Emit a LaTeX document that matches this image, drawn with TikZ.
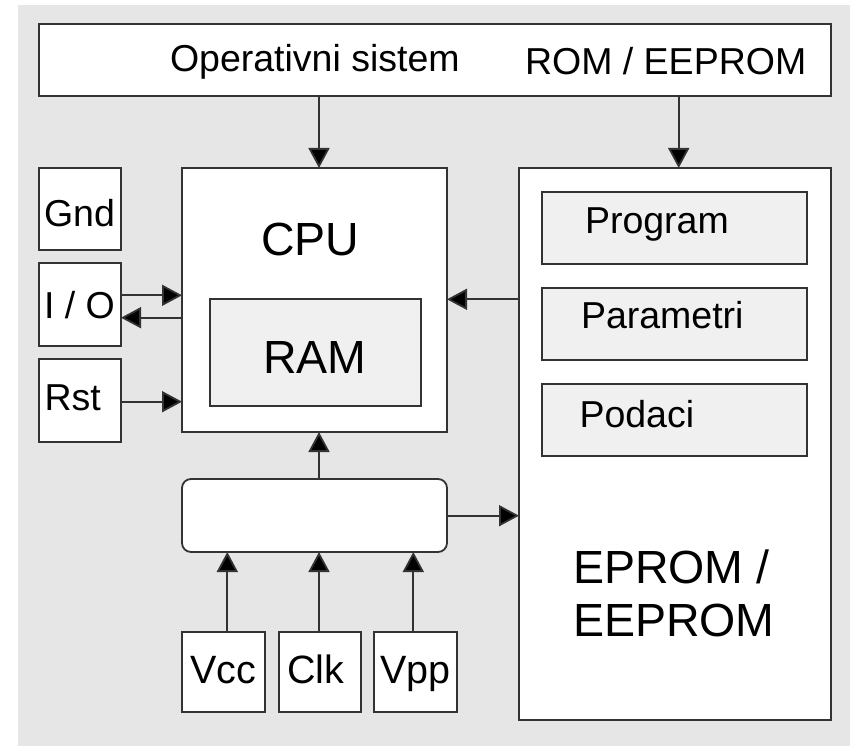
\documentclass[tikz,border=0pt]{standalone}
\usepackage{fontspec}
\setmainfont{Liberation Sans}
\usetikzlibrary{arrows.meta}
\definecolor{bggray}{HTML}{E6E6E6}
\definecolor{innergray}{HTML}{F0F0F0}
\definecolor{linegray}{HTML}{333333}
\tikzset{
  box/.style={draw=linegray, line width=1.8pt, fill=white, inner sep=0pt, outer sep=0pt},
  inbox/.style={box, fill=innergray},
  lbl/.style={anchor=base west, inner sep=0pt, outer sep=0pt, text=black},
  mid/.style={lbl, font=\fontsize{37.5}{44}\selectfont},
  pin/.style={lbl, font=\fontsize{39.5}{46}\selectfont},
  big/.style={lbl, font=\fontsize{46.5}{53}\selectfont},
  arr/.style={draw=linegray, line width=1.8pt, -{Triangle[length=20pt,width=21pt,fill=black]}}
}
\begin{document}
\begin{tikzpicture}[x=1pt,y=-1pt]
\useasboundingbox (0,0) rectangle (850,746);
\fill[white] (0,0) rectangle (850,746);
\fill[bggray] (18,5) rectangle (850,746);

% boxes
\node[box, minimum width=792pt, minimum height=72pt] (top) at (435,60) {};
\node[box, minimum width=82pt, minimum height=82pt] (gnd) at (80,209) {};
\node[box, minimum width=82pt, minimum height=83pt] (io) at (80,304.5) {};
\node[box, minimum width=82pt, minimum height=83pt] (rst) at (80,400.5) {};
\node[box, minimum width=265pt, minimum height=264pt] (cpu) at (314.5,300) {};
\node[inbox, minimum width=211pt, minimum height=107pt] (ram) at (315.5,352.5) {};
\node[box, rounded corners=9pt, minimum width=265pt, minimum height=73pt] (bus) at (314.5,515.5) {};
\node[box, minimum width=83pt, minimum height=80pt] (vcc) at (223.5,672) {};
\node[box, minimum width=82pt, minimum height=80pt] (clk) at (320,672) {};
\node[box, minimum width=83pt, minimum height=80pt] (vpp) at (415.5,672) {};
\node[box, minimum width=312pt, minimum height=552pt] (eprom) at (675,444) {};
\node[inbox, minimum width=265pt, minimum height=72pt] (prog) at (674.5,228) {};
\node[inbox, minimum width=265pt, minimum height=72pt] (param) at (674.5,324) {};
\node[inbox, minimum width=265pt, minimum height=72pt] (podaci) at (674.5,420) {};

% texts
\node[mid] (tos) at (170,72) {Operativni sistem};
\node[mid] (trom) at (525,75) {ROM / EEPROM};
\node[mid] (tgnd) at (44,226.5) {Gnd};
\node[mid] (tio) at (44,318) {I / O};
\node[mid] (trst) at (44.5,410) {Rst};
\node[big] (tcpu) at (261,255) {CPU};
\node[big] (tram) at (263,373) {RAM};
\node[mid] (tprog) at (585,233) {Program};
\node[mid] (tparam) at (581,328.3) {Parametri};
\node[mid] (tpod) at (579.5,427) {Podaci};
\node[big] (tep1) at (573,583.3) {EPROM /};
\node[big] (tep2) at (573,636.7) {EEPROM};
\node[pin] (tvcc) at (190,683.3) {Vcc};
\node[pin] (tclk) at (287,683.3) {Clk};
\node[pin] (tvpp) at (380,683.3) {Vpp};

% connector guides
\coordinate (ax) at (319,0);
\coordinate (bx) at (678.7,0);
\coordinate (vx) at (227.3,0);
\coordinate (px) at (413.3,0);
\coordinate (y1) at (0,295.3);
\coordinate (y2) at (0,317.7);
\coordinate (y3) at (0,401.7);
\coordinate (y4) at (0,299.3);
\coordinate (y5) at (0,515.7);

% connectors
\draw[arr] (top.south -| ax) -- (cpu.north -| ax);
\draw[arr] (top.south -| bx) -- (eprom.north -| bx);
\draw[arr] (io.east |- y1) -- (cpu.west |- y1);
\draw[arr] (cpu.west |- y2) -- (io.east |- y2);
\draw[arr] (rst.east |- y3) -- (cpu.west |- y3);
\draw[arr] (eprom.west |- y4) -- (cpu.east |- y4);
\draw[arr] (bus.north -| ax) -- (cpu.south -| ax);
\draw[arr] (bus.east |- y5) -- (eprom.west |- y5);
\draw[arr] (vcc.north -| vx) -- (bus.south -| vx);
\draw[arr] (clk.north -| ax) -- (bus.south -| ax);
\draw[arr] (vpp.north -| px) -- (bus.south -| px);
\end{tikzpicture}
\end{document}
